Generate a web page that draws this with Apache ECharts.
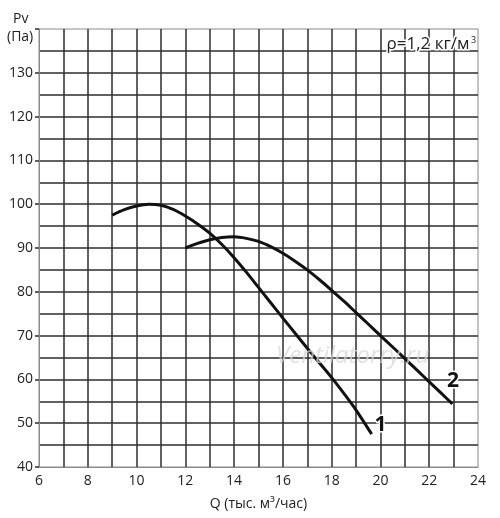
<!DOCTYPE html>
<html>
<head>
<meta charset="utf-8">
<script src="https://cdn.jsdelivr.net/npm/echarts@6/dist/echarts.min.js"></script>
<style>
html,body{margin:0;padding:0;background:#fff;}
#chart{width:500px;height:518px;}
</style>
</head>
<body>
<div id="chart"></div>
<script>
// Curve 1
const q1 = [9, 9.5, 10, 10.5, 11, 11.5, 12, 12.5, 13, 13.5, 14, 14.5, 15, 15.5, 16, 16.5, 17, 17.5, 18, 18.5, 19, 19.64];
const p1 = [97.5, 98.75, 99.6, 100, 99.75, 98.8, 97.3, 95.5, 93.4, 90.8, 87.8, 84.5, 81.0, 77.5, 74.0, 70.55, 67.1, 63.75, 60.4, 56.8, 53.0, 47.5];
// Curve 2
const q2 = [12, 12.5, 13, 13.5, 14, 14.5, 15, 15.5, 16, 16.5, 17, 17.5, 18, 18.5, 19, 19.5, 20, 20.5, 21, 21.5, 22, 22.5, 22.95];
const p2 = [90, 91.05, 91.9, 92.4, 92.55, 92.2, 91.5, 90.3, 88.8, 87.0, 85.0, 82.75, 80.35, 77.85, 75.25, 72.65, 70.0, 67.4, 64.75, 62.1, 59.45, 56.8, 54.4];
// Curve labels
const curveNames = ['1', '2'];
const labelPos = [[20.0, 49.6], [22.97, 59.6]];

const FONT = 'Open Sans';
const gridColor = '#2e2e2e';

const chart = echarts.init(document.getElementById('chart'), null, {renderer: 'canvas'});

function pairs(xs, ys) { return xs.map((x, i) => [x, ys[i]]); }

function curve(name, xs, ys, lp) {
  return {
    type: 'line',
    name: name,
    data: pairs(xs, ys),
    smooth: 0.3,
    showSymbol: false,
    symbol: 'none',
    lineStyle: {color: '#111', width: 3},
    z: 5,
    markPoint: {
      symbol: 'circle',
      symbolSize: 0,
      silent: true,
      data: [{coord: lp, value: name}],
      label: {
        show: true,
        position: 'inside',
        formatter: name,
        color: '#111',
        fontFamily: FONT,
        fontWeight: 'bold',
        fontSize: 21,
        textBorderColor: '#fff',
        textBorderWidth: 3
      }
    }
  };
}

const splitStyle = {color: gridColor, width: 1.5};

chart.setOption({
  animation: false,
  backgroundColor: '#fff',
  grid: {left: 39, right: 22, top: 29, bottom: 51, show: true, borderColor: '#8a8a8a', borderWidth: 1, backgroundColor: 'transparent'},
  xAxis: {
    type: 'value', min: 6, max: 24, interval: 2,
    name: 'Q (тыс. м³/час)', nameLocation: 'middle', nameGap: 30,
    nameTextStyle: {fontFamily: FONT, fontSize: 14, color: '#222'},
    axisLine: {show: true, lineStyle: {color: '#8a8a8a', width: 1}},
    axisTick: {show: false},
    axisLabel: {fontFamily: FONT, fontSize: 14, color: '#222', margin: 7},
    splitLine: {show: true, showMinLine: false, showMaxLine: false, lineStyle: splitStyle},
    minorTick: {show: false, splitNumber: 2},
    minorSplitLine: {show: true, lineStyle: splitStyle}
  },
  yAxis: {
    type: 'value', min: 40, max: 140, interval: 10,
    axisLine: {show: true, lineStyle: {color: '#8a8a8a', width: 1}},
    axisTick: {show: true, length: 4, lineStyle: {color: gridColor, width: 1.5}},
    axisLabel: {fontFamily: FONT, fontSize: 14, color: '#222', margin: 6,
      formatter: v => (v === 140 ? '' : String(v))},
    splitLine: {show: true, showMinLine: false, showMaxLine: false, lineStyle: splitStyle},
    minorTick: {show: false, splitNumber: 2},
    minorSplitLine: {show: true, lineStyle: splitStyle}
  },
  graphic: [
    {type: 'text', left: 13, top: 12, style: {text: 'Pv', font: '14px "Open Sans"', fill: '#222'}},
    {type: 'text', left: 7, top: 30, style: {text: '(Па)', font: '14px "Open Sans"', fill: '#222'}},
    {type: 'text', left: 385, top: 34, z: 20,
      style: {text: 'ρ=1,2 кг/м', font: '17px "Open Sans"', fill: '#222', stroke: '#fff', lineWidth: 3}},
    {type: 'text', left: 470, top: 35, z: 20,
      style: {text: '3', font: '9px "Open Sans"', fill: '#222', stroke: '#fff', lineWidth: 2}},
    {type: 'text', left: 276, top: 344, z: 20,
      style: {text: 'Ventilatorry.ru', font: 'italic 24px "Open Sans"', fill: 'rgba(215,215,215,0.75)'}}
  ],
  series: [
    curve(curveNames[0], q1, p1, labelPos[0]),
    curve(curveNames[1], q2, p2, labelPos[1])
  ]
});
</script>
</body>
</html>
